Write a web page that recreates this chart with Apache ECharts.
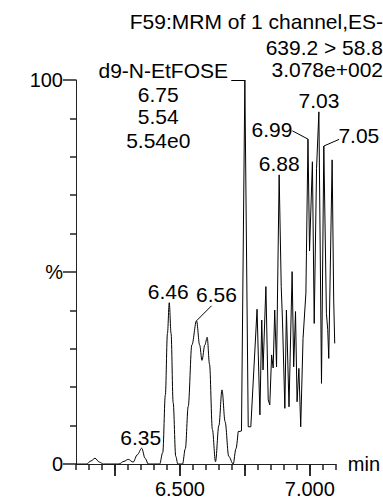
<!DOCTYPE html>
<html><head><meta charset="utf-8">
<script src="https://cdn.jsdelivr.net/npm/echarts@6/dist/echarts.min.js"></script>
<style>html,body{margin:0;padding:0;background:#fff}#c{width:383px;height:499px}</style>
</head><body><div id="c"></div>
<script>
// ---- data ----
const smoothTimes  = [6.10, 6.14, 6.158, 6.173, 6.19, 6.205, 6.265, 6.285, 6.301, 6.32, 6.336, 6.353, 6.366, 6.378,
                      6.422, 6.434, 6.444, 6.452, 6.459, 6.466, 6.474, 6.484, 6.492, 6.510, 6.521, 6.532, 6.546, 6.564,
                      6.576, 6.585, 6.596, 6.605, 6.614, 6.625, 6.637, 6.650, 6.662, 6.674, 6.688, 6.705, 6.716, 6.724];
const smoothValues = [0, 0, 0.8, 1.5, 0.5, 0, 0, 0.7, 1.2, 0.5, 2.4, 4.1, 1.5, 0,
                      0, 3, 18, 34, 42, 34, 16, 2, 0, 0, 4, 15, 31, 37.3,
                      31, 27, 31, 33, 26, 9, 0.6, 10, 19.3, 11, 2, 0, 4, 8.4];
const sharpTimes  = [6.724, 6.737, 6.750, 6.763, 6.773, 6.797, 6.808, 6.815, 6.820, 6.831, 6.840, 6.846, 6.853, 6.859,
                     6.865, 6.872, 6.882, 6.890, 6.895, 6.904, 6.910, 6.920, 6.932, 6.938, 6.945, 6.951, 6.958, 6.965,
                     6.974, 6.985, 6.993, 6.999, 7.010, 7.017, 7.026, 7.035, 7.045, 7.054, 7.064, 7.069, 7.073, 7.086,
                     7.092, 7.096];
const sharpValues = [8.4, 8.6, 100, 9.7, 9.7, 40.3, 12.8, 37.5, 24.5, 46.2, 16.7, 15.4, 28.4, 25,
                     40.1, 25.3, 75.3, 46.2, 37, 14.5, 40.1, 14.9, 50.1, 25.3, 39.7, 16.2, 24.9, 9.7,
                     32.7, 44.5, 84.6, 55.5, 78.7, 36.6, 77, 91.7, 21, 82.8, 39.2, 35, 27.5, 79.2,
                     42.7, 31.4];
const xMajorTicks = [6.25, 6.5, 6.75, 7.0];
const xLabelTicks = [6.5, 7.0];
const xLabelTexts = ['6.500', '7.000'];
const xMinorStep = 0.05;
const yMajorTicks = [0, 50, 100];
const yLabelTexts = ['0', '%', '100'];
const yMinorPerMajor = 5;
const peakNames   = ['6.35', '6.46', '6.56', '6.88', '6.99', '7.03', '7.05'];
const peakTimes   = [6.353, 6.459, 6.564, 6.882, 6.993, 7.035, 7.054];
const peakHeights = [4.1, 42, 37.3, 75.3, 84.6, 91.7, 82.8];
const headerLines = ['F59:MRM of 1 channel,ES-', '639.2 > 58.8', '3.078e+002'];
const compoundLines = ['d9-N-EtFOSE', '6.75', '5.54', '5.54e0'];
const compoundPeak = [6.75, 100];

// ---- layout (pixels) ----
const FONT = '"Liberation Sans", Arial, sans-serif';
const AXIS_COLOR = '#222';
const peakLabelLayout = [
  {dx: -1, dy: -11}, {dx: -1, dy: -11},
  {dx: 20, dy: -26, lx: 15, ly: -15},
  {dx: 0, dy: -11},
  {dx: -36, dy: -10, lx: -15.6, ly: -8.3},
  {dx: 0, dy: -11},
  {dx: 35, dy: -11, lx: 15.3, ly: -6.7}
];

const chart = echarts.init(document.getElementById('c'), null, {renderer: 'svg'});
const zip = (a, b) => a.map((t, i) => [t, b[i]]);
const axisText = {color: '#000', fontFamily: FONT, fontSize: 20};
const tickStyle = {color: AXIS_COLOR, width: 1.5};

chart.setOption({
  animation: false,
  backgroundColor: '#fff',
  grid: {left: 76, right: 47, top: 80, bottom: 35, containLabel: false},
  xAxis: [
    {type: 'value', min: 6.1, max: 7.1, position: 'bottom',
     axisLine: {show: true, lineStyle: {color: AXIS_COLOR, width: 1}},
     axisTick: {show: true, customValues: xMajorTicks, length: 12, lineStyle: tickStyle},
     axisLabel: Object.assign({customValues: xLabelTicks, margin: 15,
       formatter: v => xLabelTexts[xLabelTicks.findIndex(t => Math.abs(t - v) < 1e-6)] || ''}, axisText),
     splitLine: {show: false},
     name: 'min', nameLocation: 'end', nameGap: 12,
     nameTextStyle: {color: '#000', fontFamily: FONT, fontSize: 20, verticalAlign: 'middle', padding: [4, 0, 0, 0]}},
    {type: 'value', min: 6.1, max: 7.1, interval: xMinorStep, position: 'bottom',
     axisLine: {show: false},
     axisTick: {show: true, length: 6, lineStyle: tickStyle},
     axisLabel: {show: false}, splitLine: {show: false}}
  ],
  yAxis: {type: 'value', min: 0, max: 100, interval: 50, position: 'left',
     axisLine: {show: true, lineStyle: {color: AXIS_COLOR, width: 1}},
     axisTick: {show: true, length: 13, lineStyle: tickStyle},
     minorTick: {show: true, splitNumber: yMinorPerMajor, length: 6, lineStyle: tickStyle},
     axisLabel: Object.assign({margin: 13,
       formatter: v => yLabelTexts[yMajorTicks.indexOf(Math.round(v))] || ''}, axisText),
     splitLine: {show: false}, minorSplitLine: {show: false}},
  series: [
    {type: 'line', xAxisIndex: 0, data: zip(smoothTimes, smoothValues),
     smooth: 0.35, smoothMonotone: 'x', showSymbol: false, symbol: 'none',
     lineStyle: {color: '#000', width: 1}},
    {type: 'line', xAxisIndex: 0, data: zip(sharpTimes, sharpValues),
     smooth: false, showSymbol: false, symbol: 'none',
     lineStyle: {color: '#000', width: 1}}
  ]
});

// ---- long ticks and annotations positioned through the axes' scales ----
const px = (t, v) => chart.convertToPixel({xAxisIndex: 0, yAxisIndex: 0}, [t, v]);
const txt = (text, x, y, align) => ({type: 'text', x: x, y: y,
  style: {text: text, fill: '#000', font: '21px ' + FONT, align: align || 'center', verticalAlign: 'middle'}});
const ln = (x1, y1, x2, y2) => ({type: 'line', shape: {x1, y1, x2, y2},
  style: {stroke: '#000', lineWidth: 1}});

const g = [];
const axisY = Math.round(px(6.1, 0)[1]);
xMajorTicks.forEach(t => {
  const x = Math.round(px(t, 0)[0]);
  g.push({type: 'rect', shape: {x: x - 0.75, y: axisY, width: 1.5, height: 12}, style: {fill: AXIS_COLOR}});
});

peakNames.forEach((name, i) => {
  const p = px(peakTimes[i], peakHeights[i]);
  const L = peakLabelLayout[i];
  g.push(txt(name, p[0] + L.dx, p[1] + L.dy));
  if (L.lx !== undefined) g.push(ln(p[0], p[1], p[0] + L.lx, p[1] + L.ly));
});
const cp = px(compoundPeak[0], compoundPeak[1]);
g.push(ln(cp[0], Math.round(cp[1]) + 0.5, cp[0] - 13.6, Math.round(cp[1]) + 0.5));
g.push(txt(compoundLines[0], cp[0] - 81.6, cp[1] - 10));
[14, 36.7, 60].forEach((dy, k) => g.push(txt(compoundLines[k + 1], cp[0] - 86.6, cp[1] + dy)));
const W = chart.getWidth();
[21, 47.5, 69.7].forEach((y, k) => g.push(txt(headerLines[k], W, y, 'right')));
chart.setOption({graphic: g});
</script>
</body></html>
